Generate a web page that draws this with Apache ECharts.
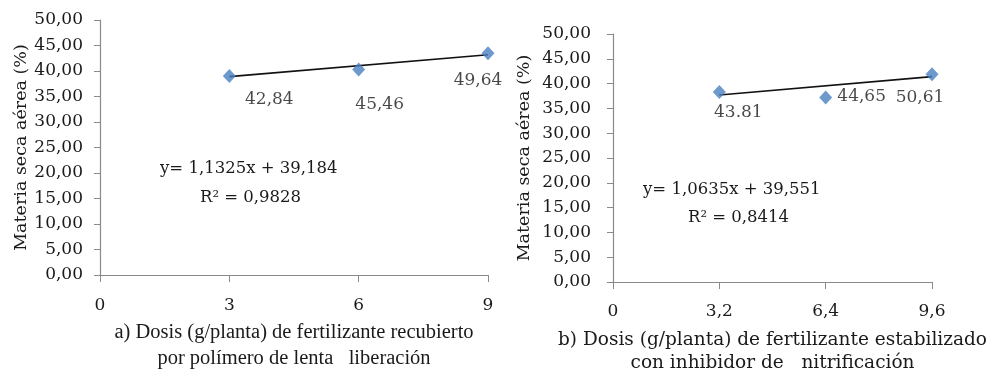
<!DOCTYPE html>
<html>
<head>
<meta charset="utf-8">
<script src="https://cdn.jsdelivr.net/npm/echarts@6/dist/echarts.min.js"></script>
<style>
html,body{margin:0;padding:0;background:#fff;}
#chart{width:986px;height:374px;}
</style>
</head>
<body>
<div id="chart"></div>
<script>
// ---- data ----
const dosesA = [3, 6, 9];
const valuesA = [39.0, 40.3, 43.5];
const labelsA = ['42,84', '45,46', '49,64'];
const trendXA = [3, 9];
const trendYA = [38.9, 43.2];
const xTicksA = ['0', '3', '6', '9'];

const dosesB = [3.2, 6.4, 9.6];
const valuesB = [38.3, 37.2, 41.9];
const labelsB = ['43.81', '44,65', '50,61'];
const trendXB = [3.2, 9.6];
const trendYB = [37.7, 41.4];
const xTicksB = ['0', '3,2', '6,4', '9,6'];

const yTickLabels = ['0,00','5,00','10,00','15,00','20,00','25,00','30,00','35,00','40,00','45,00','50,00'];

const eqA = ['y= 1,1325x + 39,184', 'R² = 0,9828'];
const eqB = ['y= 1,0635x + 39,551', 'R² = 0,8414'];
const yTitle = 'Materia seca aérea (%)';
const xTitleA = 'a) Dosis (g/planta) de fertilizante recubierto\npor polímero de lenta   liberación';
const xTitleB = 'b) Dosis (g/planta) de fertilizante estabilizado\ncon inhibidor de   nitrificación';

// ---- styles ----
const labelOffsetsA = [[40, 23], [21, 35], [-10, 27]];
const labelOffsetsB = [[19, 21], [36, -1], [-12, 23]];
const TXT = '#1a1a1a';
const AX = '#8a8a8a';
const NUMFONT = 'DejaVu Serif';
const TITLEFONT = 'Liberation Serif';

const chart = echarts.init(document.getElementById('chart'), null, {renderer: 'canvas'});

function yAxisCfg(gridIndex, gap, margin) {
  return {
    type: 'value', gridIndex: gridIndex, min: 0, max: 50, interval: 5,
    name: yTitle, nameLocation: 'middle', nameRotate: 90, nameGap: gap,
    nameTextStyle: {fontFamily: NUMFONT, fontSize: 17.5, color: TXT},
    axisLine: {show: true, lineStyle: {color: AX, width: 1.2}},
    axisTick: {show: true, length: 6, lineStyle: {color: AX}},
    splitLine: {show: false},
    axisLabel: {fontFamily: NUMFONT, fontSize: 17, color: TXT, margin: margin,
      formatter: (v) => yTickLabels[Math.round(v / 5)]}
  };
}
function xAxisCfg(gridIndex, max, interval, ticks, title, gap, titleFont, titleSize, lh, margin) {
  return {
    type: 'value', gridIndex: gridIndex, min: 0, max: max, interval: interval,
    name: title, nameLocation: 'middle', nameGap: gap,
    nameTextStyle: {fontFamily: titleFont, fontSize: titleSize, color: TXT, lineHeight: lh},
    axisLine: {show: true, onZero: false, lineStyle: {color: AX, width: 1.2}},
    axisTick: {show: true, length: 7, lineStyle: {color: AX}},
    splitLine: {show: false},
    axisLabel: {fontFamily: NUMFONT, fontSize: 17, color: TXT, margin: margin,
      formatter: (v) => ticks[Math.round(v / interval)]}
  };
}
function scatterSeries(idx, xs, ys, labels, offsets) {
  return {
    type: 'scatter', xAxisIndex: idx, yAxisIndex: idx,
    symbol: 'diamond', symbolSize: [13, 14],
    itemStyle: {color: '#4a7fc1'},
    z: 3,
    data: xs.map((x, i) => ({
      value: [x, ys[i]],
      label: {show: true, offset: offsets[i], position: 'inside',
        formatter: labels[i], fontFamily: NUMFONT, fontSize: 17, color: TXT,
        textBorderWidth: 0, textBorderColor: 'transparent'}
    }))
  };
}
function trendSeries(idx, xs, ys) {
  return {
    type: 'line', xAxisIndex: idx, yAxisIndex: idx, symbol: 'none', z: 2,
    lineStyle: {color: '#111', width: 1.6},
    data: xs.map((x, i) => [x, ys[i]])
  };
}
function eqText(left, top, lines) {
  return {type: 'text', left: left, top: top,
    style: {text: lines, fontFamily: NUMFONT, fontSize: 16.5, fill: TXT}};
}

chart.setOption({
  animation: false,
  backgroundColor: '#fff',
  grid: [
    {left: 100, top: 20, width: 388, height: 255, outerBoundsMode: 'none', containLabel: false},
    {left: 613, top: 34, width: 319, height: 248, outerBoundsMode: 'none', containLabel: false}
  ],
  xAxis: [
    xAxisCfg(0, 9, 3, xTicksA, xTitleA, 45, TITLEFONT, 20.5, 26, 22),
    xAxisCfg(1, 9.6, 3.2, xTicksB, xTitleB, 47, NUMFONT, 18.5, 23, 21)
  ],
  yAxis: [yAxisCfg(0, 68, 17), yAxisCfg(1, 80, 22)],
  series: [
    trendSeries(0, trendXA, trendYA),
    scatterSeries(0, dosesA, valuesA, labelsA, labelOffsetsA),
    trendSeries(1, trendXB, trendYB),
    scatterSeries(1, dosesB, valuesB, labelsB, labelOffsetsB)
  ],
  graphic: [
    eqText(160, 160, eqA[0]),
    eqText(200, 189, eqA[1]),
    eqText(643, 181, eqB[0]),
    eqText(688, 209, eqB[1])
  ]
});
</script>
</body>
</html>
